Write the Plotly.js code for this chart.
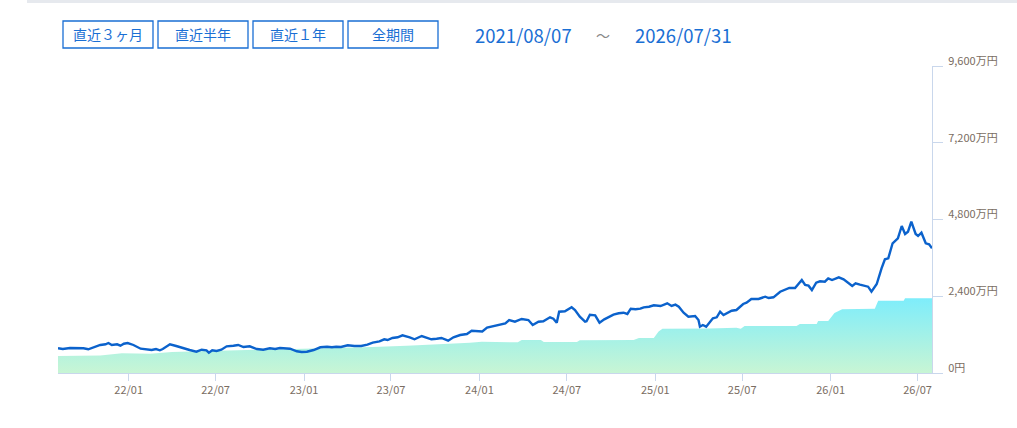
<!DOCTYPE html>
<html>
<head>
<meta charset="utf-8">
<script src="https://cdn.plot.ly/plotly-3.0.1.min.js"></script>
<style>
html,body{margin:0;padding:0;background:#fff;}
#chart{width:1017px;height:428px;}
</style>
</head>
<body>
<div id="chart"></div>
<script>
// 評価額 (万円)
const valueDates = [
'2021-08-07','2021-08-17','2021-09-01','2021-09-29','2021-10-09','2021-11-03','2021-11-14','2021-11-20','2021-11-27','2021-12-08',
'2021-12-15','2021-12-22','2021-12-30','2022-01-11','2022-01-26','2022-02-12','2022-02-18','2022-02-27','2022-03-07','2022-03-13',
'2022-03-28','2022-04-10','2022-04-24','2022-05-08','2022-05-22','2022-06-02','2022-06-12','2022-06-17','2022-06-24','2022-07-03',
'2022-07-13','2022-07-24','2022-08-07','2022-08-17','2022-08-28','2022-09-10','2022-09-25','2022-10-08','2022-10-22','2022-11-02',
'2022-11-12','2022-12-03','2022-12-17','2022-12-27','2023-01-07','2023-01-21','2023-02-04','2023-02-18','2023-02-28','2023-03-09',
'2023-03-19','2023-04-02','2023-04-16','2023-04-30','2023-05-13','2023-05-24','2023-06-07','2023-06-17','2023-06-24','2023-07-04',
'2023-07-15','2023-07-25','2023-08-09','2023-08-19','2023-09-03','2023-09-13','2023-09-23','2023-10-04','2023-10-14','2023-10-28',
'2023-11-08','2023-11-22','2023-12-06','2023-12-16','2023-12-27','2024-01-07','2024-01-17','2024-01-31','2024-02-13','2024-02-24',
'2024-03-03','2024-03-15','2024-03-29','2024-04-12','2024-04-21','2024-05-03','2024-05-13','2024-05-27','2024-06-03','2024-06-10',
'2024-06-15','2024-06-27','2024-07-11','2024-07-18','2024-07-28','2024-08-08','2024-08-11','2024-08-18','2024-08-29','2024-09-07',
'2024-09-17','2024-09-26','2024-10-06','2024-10-17','2024-10-27','2024-11-04','2024-11-11','2024-11-21','2024-12-01','2024-12-08',
'2024-12-19','2024-12-29','2025-01-12','2025-01-26','2025-02-04','2025-02-12','2025-02-19','2025-03-01','2025-03-11','2025-03-25',
'2025-04-01','2025-04-04','2025-04-10','2025-04-17','2025-05-01','2025-05-09','2025-05-16','2025-05-23','2025-06-09','2025-06-19',
'2025-07-03','2025-07-10','2025-07-20','2025-08-04','2025-08-18','2025-08-25','2025-09-04','2025-09-18','2025-09-28','2025-10-07',
'2025-10-19','2025-11-02','2025-11-09','2025-11-16','2025-11-23','2025-12-02','2025-12-10','2025-12-20','2025-12-27','2026-01-04',
'2026-01-18','2026-01-28','2026-02-15','2026-02-22','2026-03-03','2026-03-13','2026-03-20','2026-03-27','2026-04-07','2026-04-17',
'2026-04-24','2026-05-01','2026-05-10','2026-05-21','2026-05-29','2026-06-05','2026-06-11','2026-06-18','2026-06-27','2026-07-02',
'2026-07-09','2026-07-18','2026-07-25','2026-07-31'
];
const values = [
772,750,782,772,741,876,897,938,876,897,
854,916,938,876,760,729,719,750,710,750,
897,844,772,719,666,729,710,635,710,688,
729,835,854,876,813,835,750,729,772,750,
782,760,679,657,666,719,804,822,804,822,
813,866,844,844,885,948,991,1054,1032,1094,
1116,1179,1116,1054,1157,1116,1054,1073,1094,1010,
1116,1188,1220,1323,1323,1300,1420,1470,1532,1554,
1657,1604,1689,1657,1501,1604,1617,1742,1698,1573,
1917,1929,2054,1970,1760,1604,1617,1823,1804,1573,
1679,1760,1823,1867,1886,1845,2011,1992,2011,2054,
2073,2117,2095,2180,2095,2136,2073,1886,1760,1782,
1657,1448,1501,1448,1710,1742,1917,1814,1948,1970,
2158,2198,2314,2314,2386,2345,2367,2542,2595,2658,
2658,2908,2752,2730,2595,2824,2867,2855,2961,2908,
2993,2930,2720,2805,2761,2720,2699,2542,2783,3274,
3555,3587,4056,4212,4597,4347,4418,4731,4347,4284,
4387,4056,4025,3899
];
// 投資額 (万円)
const investDates = [
'2021-08-07','2021-11-03','2021-12-18','2022-02-15','2022-04-01','2022-07-01','2022-08-14','2022-11-02','2022-12-30','2023-03-15',
'2023-05-23','2023-08-03','2023-10-10','2023-12-12','2024-01-06','2024-03-13','2024-03-21','2024-03-29','2024-05-08','2024-05-14',
'2024-07-22','2024-07-28','2024-09-26','2024-11-17','2024-11-28','2024-12-29','2025-01-08','2025-01-16','2025-04-24','2025-06-19',
'2025-06-28','2025-07-06','2025-10-22','2025-10-29','2025-12-03','2025-12-06','2025-12-27','2026-01-09','2026-01-25','2026-04-03',
'2026-04-10','2026-06-02','2026-06-05','2026-07-31'
];
const investValues = [
531,547,615,600,660,690,719,750,772,792,
813,854,897,948,979,979,960,1032,1032,969,
969,1025,1032,1032,1094,1094,1300,1385,1395,1417,
1385,1470,1470,1532,1532,1626,1626,1880,1990,2011,
2261,2261,2336,2336
];
const xTickDates = ['2022-01-01','2022-07-01','2023-01-01','2023-07-01','2024-01-01','2024-07-01','2025-01-01','2025-07-01','2026-01-01','2026-07-01'];
const xTickLabels = ['22/01','22/07','23/01','23/07','24/01','24/07','25/01','25/07','26/01','26/07'];
const yTickValues = [0,2400,4800,7200,9600];
const yTickLabels = ['0円','2,400万円','4,800万円','7,200万円','9,600万円'];
const rangeButtons = ['直近３ヶ月','直近半年','直近１年','全期間'];
const periodStart = '2021/08/07';
const periodEnd = '2026/07/31';

const W = 1017, H = 428, ML = 58, MR = 85, MT = 66, MB = 55;
const PW = W - ML - MR, PH = H - MT - MB;
const px = x => (x - ML) / PW;
const py = y => (H - MB - y) / PH;

const blue = '#1a6fd4';
const axisCol = '#c9d7ec';
const labelCol = '#7a6d62';
const jp = '"Noto Sans CJK JP", "Noto Sans", sans-serif';

const traces = [
  {
    x: investDates, y: investValues, type: 'scatter', mode: 'lines',
    line: {width: 0, color: 'rgba(0,0,0,0)'},
    fill: 'tozeroy',
    fillgradient: {type: 'vertical', colorscale: [[0, '#c8f5d4'], [1, '#7eedfb']]},
    hoverinfo: 'skip'
  },
  {
    x: valueDates, y: values, type: 'scatter', mode: 'lines',
    line: {color: '#0b62cc', width: 2.4},
    hoverinfo: 'x+y'
  }
];

const annotations = [];
const shapes = [
  {type: 'rect', xref: 'paper', yref: 'paper', x0: px(27), x1: px(1017), y0: py(3), y1: py(0),
   fillcolor: '#e6e9ee', line: {width: 0}, layer: 'above'}
];
const btnCenters = [108, 203, 298, 393];
rangeButtons.forEach((t, i) => {
  shapes.push({type: 'rect', xref: 'paper', yref: 'paper',
    x0: px(btnCenters[i] - 45), x1: px(btnCenters[i] + 45), y0: py(48), y1: py(21),
    line: {color: blue, width: 1.3}, fillcolor: '#ffffff', layer: 'above'});
  annotations.push({text: t, xref: 'paper', yref: 'paper', x: px(btnCenters[i]), y: py(34.5),
    xanchor: 'center', yanchor: 'middle', showarrow: false,
    font: {family: jp, size: 14, color: blue}});
});
annotations.push({text: periodStart, xref: 'paper', yref: 'paper', x: px(523), y: py(35),
  xanchor: 'center', yanchor: 'middle', showarrow: false, font: {family: jp, size: 18.5, color: blue}});
annotations.push({text: '～', xref: 'paper', yref: 'paper', x: px(603), y: py(35),
  xanchor: 'center', yanchor: 'middle', showarrow: false, font: {family: jp, size: 14, color: '#888888'}});
annotations.push({text: periodEnd, xref: 'paper', yref: 'paper', x: px(683), y: py(35),
  xanchor: 'center', yanchor: 'middle', showarrow: false, font: {family: jp, size: 18.5, color: blue}});

const layout = {
  width: W, height: H,
  margin: {l: ML, r: MR, t: MT, b: MB},
  paper_bgcolor: '#ffffff', plot_bgcolor: '#ffffff',
  showlegend: false,
  xaxis: {
    type: 'date', range: ['2021-08-07', '2026-07-31'],
    tickmode: 'array', tickvals: xTickDates, ticktext: xTickLabels,
    ticks: 'outside', ticklen: 7, tickcolor: axisCol, tickwidth: 1,
    showline: true, linecolor: axisCol, linewidth: 1,
    showgrid: false, zeroline: false,
    tickfont: {family: jp, size: 11, color: labelCol}
  },
  yaxis: {
    side: 'right', range: [0, 9600],
    tickmode: 'array', tickvals: yTickValues, ticktext: yTickLabels,
    ticks: 'outside', ticklen: 10, tickcolor: axisCol, tickwidth: 1,
    showline: true, linecolor: axisCol, linewidth: 1,
    showgrid: false, zeroline: false,
    ticklabelshift: -5, ticklabelstandoff: 3,
    tickfont: {family: jp, size: 11, color: labelCol}
  },
  shapes: shapes,
  annotations: annotations
};

Plotly.newPlot('chart', traces, layout, {displayModeBar: false, staticPlot: true});
</script>
</body>
</html>
